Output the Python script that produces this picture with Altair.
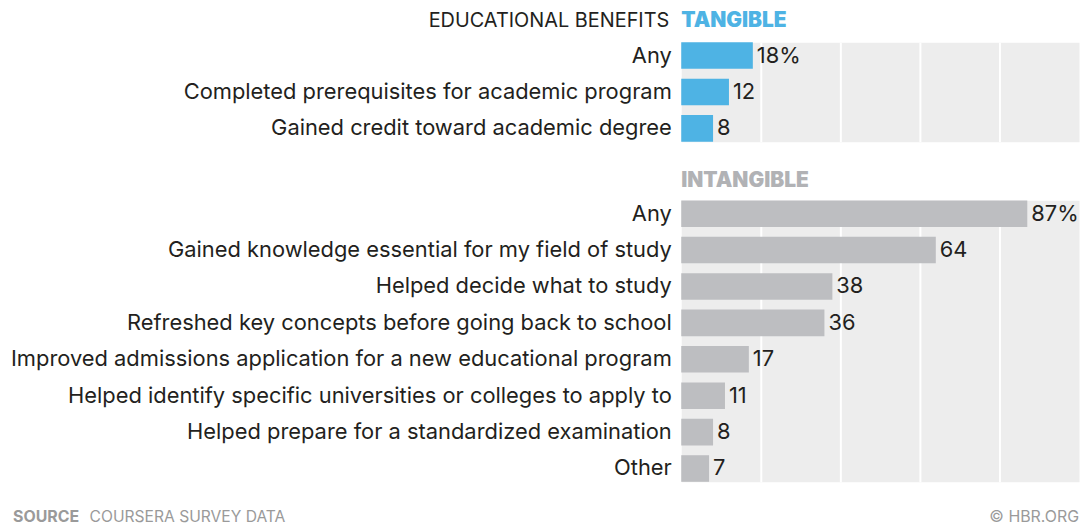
import altair as alt
import pandas as pd

tangible_labels = ["Any", "Completed prerequisites for academic program", "Gained credit toward academic degree"]
tangible_values = [18, 12, 8]
tangible_text = ["18%", "12", "8"]

intangible_labels = [
    "Any",
    "Gained knowledge essential for my field of study",
    "Helped decide what to study",
    "Refreshed key concepts before going back to school",
    "Improved admissions application for a new educational program",
    "Helped identify specific universities or colleges to apply to",
    "Helped prepare for a standardized examination",
    "Other",
]
intangible_values = [87, 64, 38, 36, 17, 11, 8, 7]
intangible_text = ["87%", "64", "38", "36", "17", "11", "8", "7"]

grid_ticks = [20, 40, 60, 80]
header_main = ["EDUCATIONAL BENEFITS"]
header_tangible = ["TANGIBLE"]
header_intangible = ["INTANGIBLE"]
footer_source = ["SOURCE"]
footer_data = ["COURSERA SURVEY DATA"]
footer_credit = ["© HBR.ORG"]

FONT = "Inter"
BLUE = "#4eb3e4"
GRAY_BAR = "#bdbec1"
GRAY_HEAD = "#b1b2b5"
TEXT = "#231f20"
FOOT = "#9a9a9a"


def label_text(values, size, weight, color, align, x, y):
    df = pd.DataFrame({"t": values})
    return alt.Chart(df).mark_text(
        align=align, baseline="middle", font=FONT, fontSize=size, fontWeight=weight, color=color
    ).encode(text="t:N", x=alt.value(x), y=alt.value(y))


def panel(labels, values, texts, color):
    df = pd.DataFrame({"label": labels, "value": values, "text": texts})
    yaxis = alt.Axis(
        title=None,
        labelFontSize=22, labelColor=TEXT, labelFont=FONT, labelPadding=10,
        ticks=False, domain=False, labelLimit=900, minExtent=676, maxExtent=676,
    )
    base = alt.Chart(df).encode(
        y=alt.Y("label:N", sort=None, axis=yaxis,
                scale=alt.Scale(paddingInner=0.27, paddingOuter=0)),
        x=alt.X("value:Q", scale=alt.Scale(domain=[0, 100], nice=False),
                axis=alt.Axis(values=grid_ticks, grid=True, gridColor="white", gridWidth=2,
                              gridOpacity=1, labels=False, ticks=False, domain=False, title=None)),
    )
    bars = base.mark_bar(color=color)
    txt = base.mark_text(align="left", baseline="middle", dx=4, font=FONT, fontSize=22, color=TEXT).encode(
        text="text:N")
    return bars, txt


tb, tt = panel(tangible_labels, tangible_values, tangible_text, BLUE)
top = alt.layer(
    tb, tt,
    label_text(header_main, 20, "normal", TEXT, "right", -12, -21),
    label_text(header_tangible, 21, 900, BLUE, "left", 0, -21),
).properties(width=400, height=100)

bb, bt = panel(intangible_labels, intangible_values, intangible_text, GRAY_BAR)
bottom = alt.layer(
    bb, bt,
    label_text(header_intangible, 21, 900, GRAY_HEAD, "left", 0, -19),
    label_text(footer_source, 16, "bold", FOOT, "left", -672, 318),
    label_text(footer_data, 15.7, "normal", FOOT, "left", -595, 318),
    label_text(footer_credit, 16, "normal", FOOT, "right", 400, 318),
).properties(width=400, height=283)

chart = alt.vconcat(top, bottom, spacing=27).properties(
    padding={"left": 0, "top": 0, "right": 0, "bottom": 0}
).configure_view(fill="#ededed", stroke="transparent")

chart.save("out.html", embed_options={"renderer": "svg", "actions": False})
